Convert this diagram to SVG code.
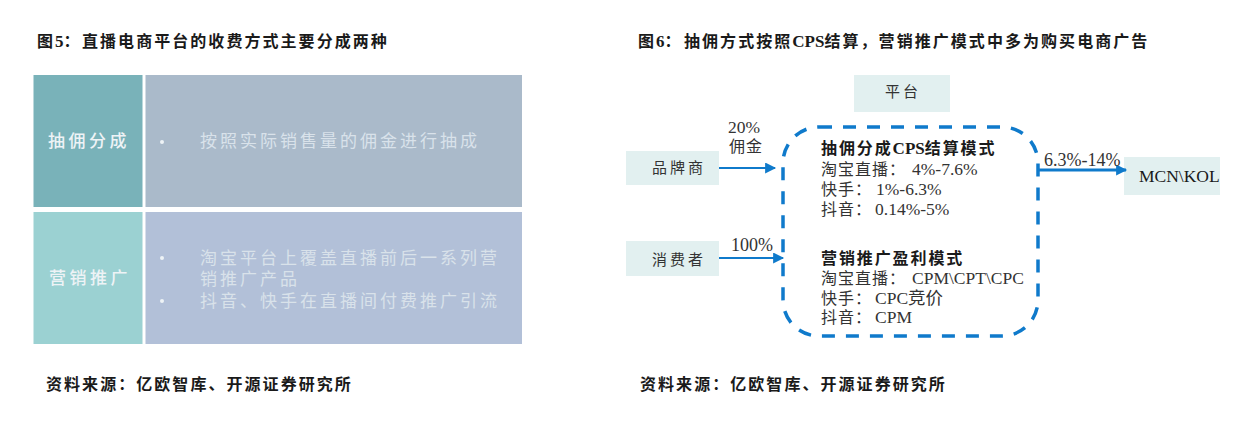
<svg xmlns="http://www.w3.org/2000/svg" width="1242" height="428" viewBox="0 0 1242 428">
<style>
text{font-family:"Liberation Serif","Noto Sans CJK SC",serif}
.h{font-size:16px;font-weight:700;fill:#1a1a1a;letter-spacing:2.05px}
.lat{letter-spacing:0;font-size:17px}
.c{font-size:17px;fill:#eef3f6;letter-spacing:3.5px;font-weight:500}
.b{font-size:17px;fill:#d9e2ea;letter-spacing:3px}
.n{font-size:15px;fill:#333;letter-spacing:3px}
.l{font-size:16px;fill:#333;letter-spacing:1px}
.v{font-size:17.5px;fill:#333;letter-spacing:0}
.k{font-size:16px;fill:#1a1a1a;font-weight:700;letter-spacing:1.9px}
.box{fill:#e2f0f0}
.dot{fill:#eef3f6}
.cn{stroke:#0f7acb;stroke-width:2;fill:none;marker-end:url(#a)}
</style>
<defs><marker id="a" viewBox="0 0 10 10" refX="9" refY="5" markerUnits="userSpaceOnUse" markerWidth="12" markerHeight="11" orient="auto"><path d="M0 0L10 5L0 10z" fill="#0f7acb"/></marker></defs>
<rect width="1242" height="428" fill="#fff"/>
<text class="h" x="37" y="47">图<tspan class="lat">5</tspan>&#xFF1A;</text><text class="h" x="82" y="47">直播电商平台的收费方式主要分成两种</text>
<g id="row1-label"><rect x="33.5" y="75" width="109" height="132" fill="#79b2b9"/><text class="c" x="48" y="147">抽佣分成</text></g>
<g id="row1-body"><rect x="145.5" y="75" width="376.5" height="132" fill="#aabaca"/><circle class="dot" cx="162" cy="142" r="2"/><text class="b" x="200" y="147">按照实际销售量的佣金进行抽成</text></g>
<g id="row2-label"><rect x="33.5" y="212" width="109" height="132" fill="#9bd1d2"/><text class="c" x="49" y="284">营销推广</text></g>
<g id="row2-body"><rect x="145.5" y="212" width="376.5" height="132" fill="#b2c0d8"/><circle class="dot" cx="162" cy="258" r="2"/><circle class="dot" cx="162" cy="301" r="2"/><text class="b" x="200" y="264">淘宝平台上覆盖直播前后一系列营</text><text class="b" x="200" y="285">销推广产品</text><text class="b" x="200" y="307">抖音、快手在直播间付费推广引流</text></g>
<text class="h" x="46" y="390">资料来源&#xFF1A;亿欧智库、开源证券研究所</text>
<text class="h" x="638" y="47">图<tspan class="lat">6</tspan>&#xFF1A;</text><text class="h" x="684" y="47">抽佣方式按照<tspan class="lat">CPS</tspan>结算&#xFF0C;营销推广模式中多为购买电商广告</text>
<g id="platform"><rect class="box" x="854" y="75" width="96" height="37"/><text class="n" x="885" y="97">平台</text></g>
<g id="brand"><rect class="box" x="626" y="151" width="93" height="34"/><text class="n" x="652" y="173">品牌商</text></g>
<g id="consumer"><rect class="box" x="626" y="241" width="93" height="35"/><text class="n" x="652" y="265">消费者</text></g>
<g id="mcn"><rect class="box" x="1124" y="157" width="96" height="38"/><text x="1139" y="182" style="font-size:17.5px;fill:#1a1a1a">MCN\KOL</text></g>
<g id="connectors">
<rect x="783" y="127" width="255" height="209" rx="36" fill="none" stroke="#0f7acb" stroke-width="3.5" stroke-dasharray="13 11"/>
<path class="cn" d="M719 168H775"/>
<path class="cn" d="M719 258H783"/>
<path class="cn" d="M1038 170H1126" style="stroke-width:3"/>
</g>
<g id="platform-text">
<text class="k" x="821" y="154">抽佣分成<tspan class="lat">CPS</tspan>结算模式</text>
<text class="l" x="821" y="175">淘宝直播&#xFF1A;</text><text class="v" x="912" y="175">4%-7.6%</text>
<text class="l" x="821" y="195">快手&#xFF1A;</text><text class="v" x="876" y="195">1%-6.3%</text>
<text class="l" x="821" y="215">抖音&#xFF1A;</text><text class="v" x="875" y="215">0.14%-5%</text>
<text class="k" x="821" y="264">营销推广盈利模式</text>
<text class="l" x="821" y="284">淘宝直播&#xFF1A;</text><text class="v" x="912" y="284">CPM\CPT\CPC</text>
<text class="l" x="821" y="304">快手&#xFF1A;</text><text class="v" x="875" y="304">CPC竞价</text>
<text class="l" x="821" y="323">抖音&#xFF1A;</text><text class="v" x="875" y="323">CPM</text>
</g>
<text class="v" x="728" y="133">20%</text>
<text class="l" x="729" y="152">佣金</text>
<text class="v" x="731" y="251" style="font-size:18px">100%</text>
<text class="v" x="1044" y="166" style="font-size:18px">6.3%-14%</text>
<text class="h" x="640" y="390">资料来源&#xFF1A;亿欧智库、开源证券研究所</text>
</svg>
